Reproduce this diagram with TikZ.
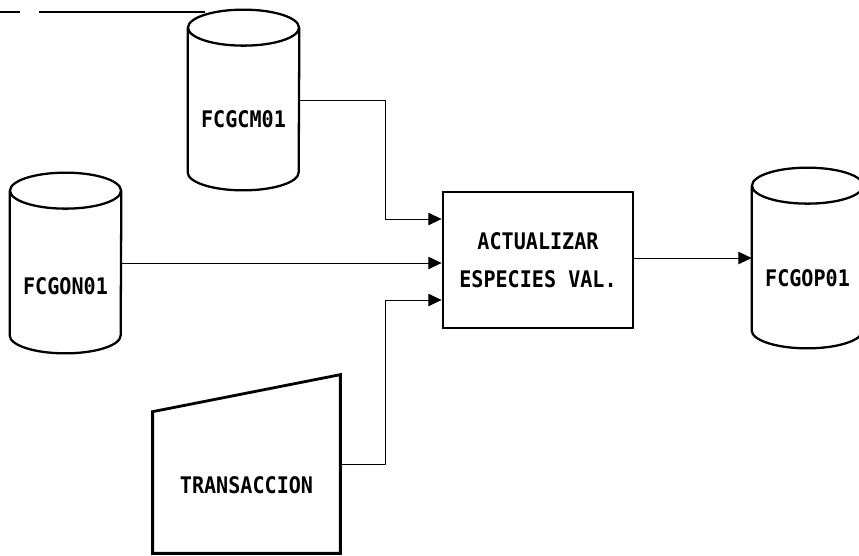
\documentclass[tikz,border=0pt]{standalone}
\usepackage{fontspec}
\newfontfamily\dotfont[FakeStretch=0.88]{DejaVu Sans Mono}
\usetikzlibrary{arrows.meta,positioning}
\tikzset{
  drumbody/.style={minimum width=2.22cm,minimum height=2.88cm,inner sep=0pt},
  rim/.style={line width=1.3pt},
  proc/.style={draw,line width=1.6pt,minimum width=3.8cm,minimum height=2.72cm,align=center,font=\dotfont\bfseries\fontsize{13}{21.5}\selectfont},
  txt/.style={font=\dotfont\bfseries\fontsize{13}{15}\selectfont,inner sep=0pt},
  arr/.style={-{Triangle[length=7.5pt,width=7pt]},line width=0.5pt},
}
% cilindro alrededor de un nodo
\newcommand\drum[1]{%
  \draw[rim] (#1.north west) -- (#1.south west) arc[start angle=180,end angle=360,x radius=1.11cm,y radius=0.36cm] -- (#1.north east);
  \draw[rim] (#1.north) ellipse[x radius=1.11cm,y radius=0.36cm];
}
\begin{document}
\begin{tikzpicture}
  \clip (0,0) rectangle (17.18,11.1);
  % linea suelta arriba
  \draw[line width=0.6pt] (0,10.86) -- (0.4,10.86);
  \draw[line width=0.6pt] (0.78,10.86) -- (4.1,10.86);
  % archivos
  \node[drumbody] (gcm) at (4.87,9.1) {};
  \drum{gcm}
  \node[txt] (gcmt) at ([yshift=-0.38cm]gcm.center) {FCGCM01};
  \node[drumbody] (gon) at (1.31,5.84) {};
  \drum{gon}
  \node[txt] (gont) at ([yshift=-0.46cm]gon.center) {FCGON01};
  \node[drumbody] (gop) at (16.15,5.94) {};
  \drum{gop}
  \node[txt] (gopt) at ([yshift=-0.4cm]gop.center) {FCGOP01};
  % proceso
  \node[proc] (act) at (10.76,5.9) {ACTUALIZAR\\ESPECIES VAL.};
  % entrada manual
  \node[minimum width=3.74cm,minimum height=3.56cm,inner sep=0pt] (trn) at (4.93,1.82) {};
  \draw[line width=1.6pt] (trn.south west) -- ([yshift=-0.74cm]trn.north west) -- (trn.north east) -- (trn.south east) -- cycle;
  \node[txt] (trnt) at ([yshift=-0.42cm]trn.center) {TRANSACCION};
  % conexiones
  \coordinate (j1) at (7.7,0);
  \coordinate (in1) at ([yshift=0.82cm]act.west);
  \coordinate (in3) at ([yshift=-0.8cm]act.west);
  \draw[arr] (gcm.east) -| (j1 |- in1) -- (in1);
  \draw[arr] (gon.east) -- (gon.east -| act.west);
  \draw[arr] (trn.east) -| (j1 |- in3) -- (in3);
  \draw[arr] (act.east |- gop.west) -- (gop.west);
\end{tikzpicture}
\end{document}
